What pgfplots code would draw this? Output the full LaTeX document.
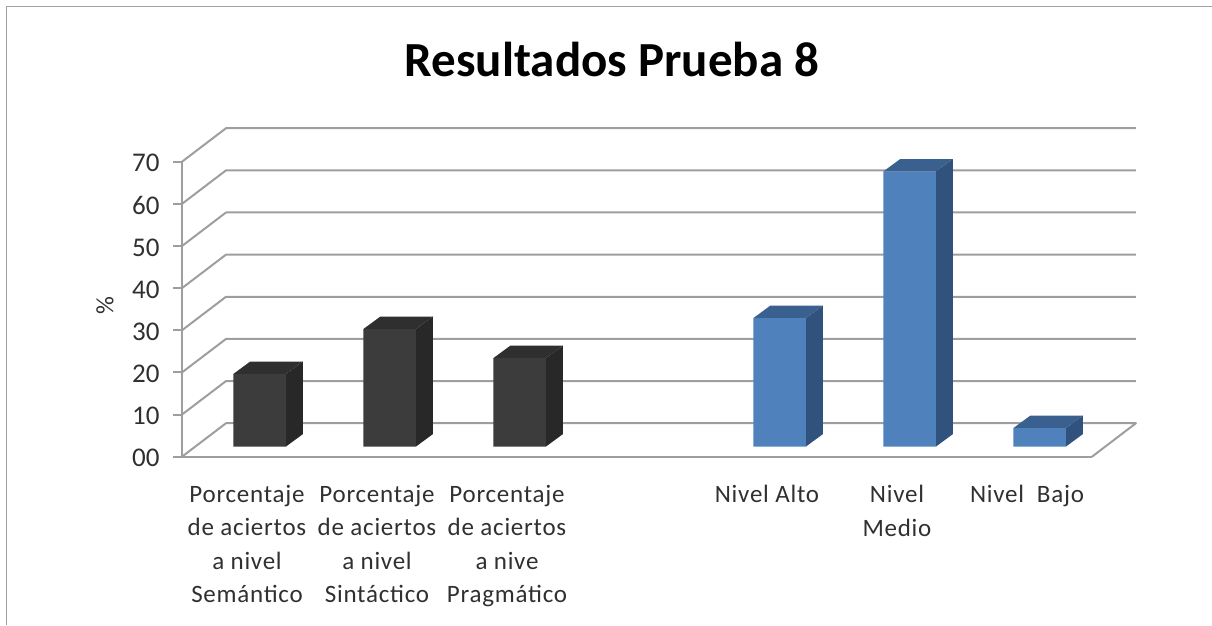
\documentclass[border=0pt]{standalone}
\usepackage{pgfplots}
\pgfplotsset{compat=1.18}
\usepackage{fontspec}
\setmainfont{Carlito}
\newfontfamily\labelfont[LetterSpace=3]{Carlito}
\definecolor{gridc}{HTML}{9E9E9E}
\definecolor{framec}{HTML}{A0A0A0}
\definecolor{textc}{HTML}{303030}
\definecolor{darkF}{HTML}{3C3C3C}
\definecolor{darkS}{HTML}{282828}
\definecolor{darkT}{HTML}{2F2F2F}
\definecolor{blueF}{HTML}{4F81BD}
\definecolor{blueS}{HTML}{31527C}
\definecolor{blueT}{HTML}{3A6090}
\newcommand\gridat[1]{%
  \pgfmathsetmacro\gb{#1+7.95}%
  \addplot[gridc,line width=2pt,line join=round] coordinates {(-0.5,#1) (-0.1615,\gb) (6.838,\gb)};%
}
% one 3D bar: position, value, side, top colours
\newcommand\faces[4]{%
  \pgfmathsetmacro\xl{#1-0.2019}%
  \pgfmathsetmacro\xr{#1+0.2019}%
  \pgfmathsetmacro\xlb{#1-0.2019+0.1308}%
  \pgfmathsetmacro\xrb{#1+0.2019+0.1308}%
  \pgfmathsetmacro\yb{#2+2.966}%
  \addplot[fill=#3,draw=none,shift={(12.5pt,10pt)}] coordinates {(\xr,0) (\xrb,2.966) (\xrb,\yb) (\xr,#2)} -- cycle;%
  \addplot[fill=#4,draw=none,shift={(12.5pt,10pt)}] coordinates {(\xl,#2) (\xr,#2) (\xrb,\yb) (\xlb,\yb)} -- cycle;%
}
\begin{document}
\begin{tikzpicture}[x=1pt,y=1pt]
\path[use as bounding box] (0,0) rectangle (1212,625);
\begin{axis}[
  at={(182pt,168.3pt)},anchor=south west,
  scale only axis,width=910pt,height=295pt,
  xmin=-0.5,xmax=6.5,ymin=0,ymax=70,
  clip=false,
  axis x line=bottom,axis y line=left,
  axis line style={-,gridc,line width=2pt},
  xtick={0,1,2,4,5,6},
  xticklabels={
    {Porcentaje\\de aciertos\\a nivel\\Semántico},
    {Porcentaje\\de aciertos\\a nivel\\Sintáctico},
    {Porcentaje\\de aciertos\\a nive\\Pragmático},
    {Nivel Alto},
    {Nivel\\Medio},
    {Nivel\ \ Bajo}},
  ytick={0,10,...,70},
  yticklabels={00,10,20,30,40,50,60,70},
  major tick length=9pt,
  xtick style={draw=none},
  ytick style={gridc,line width=2pt},
  tick align=outside,
  x tick label style={align=center,text=textc,yshift=-16pt,
    font=\fontsize{25}{33.5}\labelfont},
  y tick label style={text=textc,font=\fontsize{27}{30}\selectfont,xshift=-10pt,yshift=-1.5pt},
  /pgf/number format/assume math mode=true,
  ylabel={\%},
  every axis y label/.style={at={(axis description cs:-0.0846,0.511)},rotate=90,anchor=center,
    font=\fontsize{25}{28}\selectfont,text=textc},
  title={Resultados Prueba 8},
  every axis title/.style={at={(axis description cs:0.4725,1.348)},anchor=center,
    font=\fontsize{49}{54}\selectfont\bfseries,text=black},
]
\gridat{10}\gridat{20}\gridat{30}\gridat{40}\gridat{50}\gridat{60}\gridat{70}
\addplot[gridc,line width=2pt,line join=round] coordinates {(-0.5,0) (-0.1615,7.95) (6.838,7.95) (6.5,0)};

\faces{0}{17.25}{darkS}{darkT}
\faces{1}{27.9}{darkS}{darkT}
\faces{2}{21.0}{darkS}{darkT}
\faces{4}{30.5}{blueS}{blueT}
\faces{5}{65.3}{blueS}{blueT}
\faces{6}{4.4}{blueS}{blueT}
\addplot[ybar,bar width=52.5pt,bar shift=0pt,fill=darkF,draw=none,shift={(12.5pt,10pt)}]
  coordinates {(0,17.25) (1,27.9) (2,21.0)};
\addplot[ybar,bar width=52.5pt,bar shift=0pt,fill=blueF,draw=none,shift={(12.5pt,10pt)}]
  coordinates {(4,30.5) (5,65.3) (6,4.4)};
\end{axis}
\draw[framec,line width=1.5pt] (6.5,0) -- (6.5,618.5) -- (1212,618.5);
\end{tikzpicture}
\end{document}
